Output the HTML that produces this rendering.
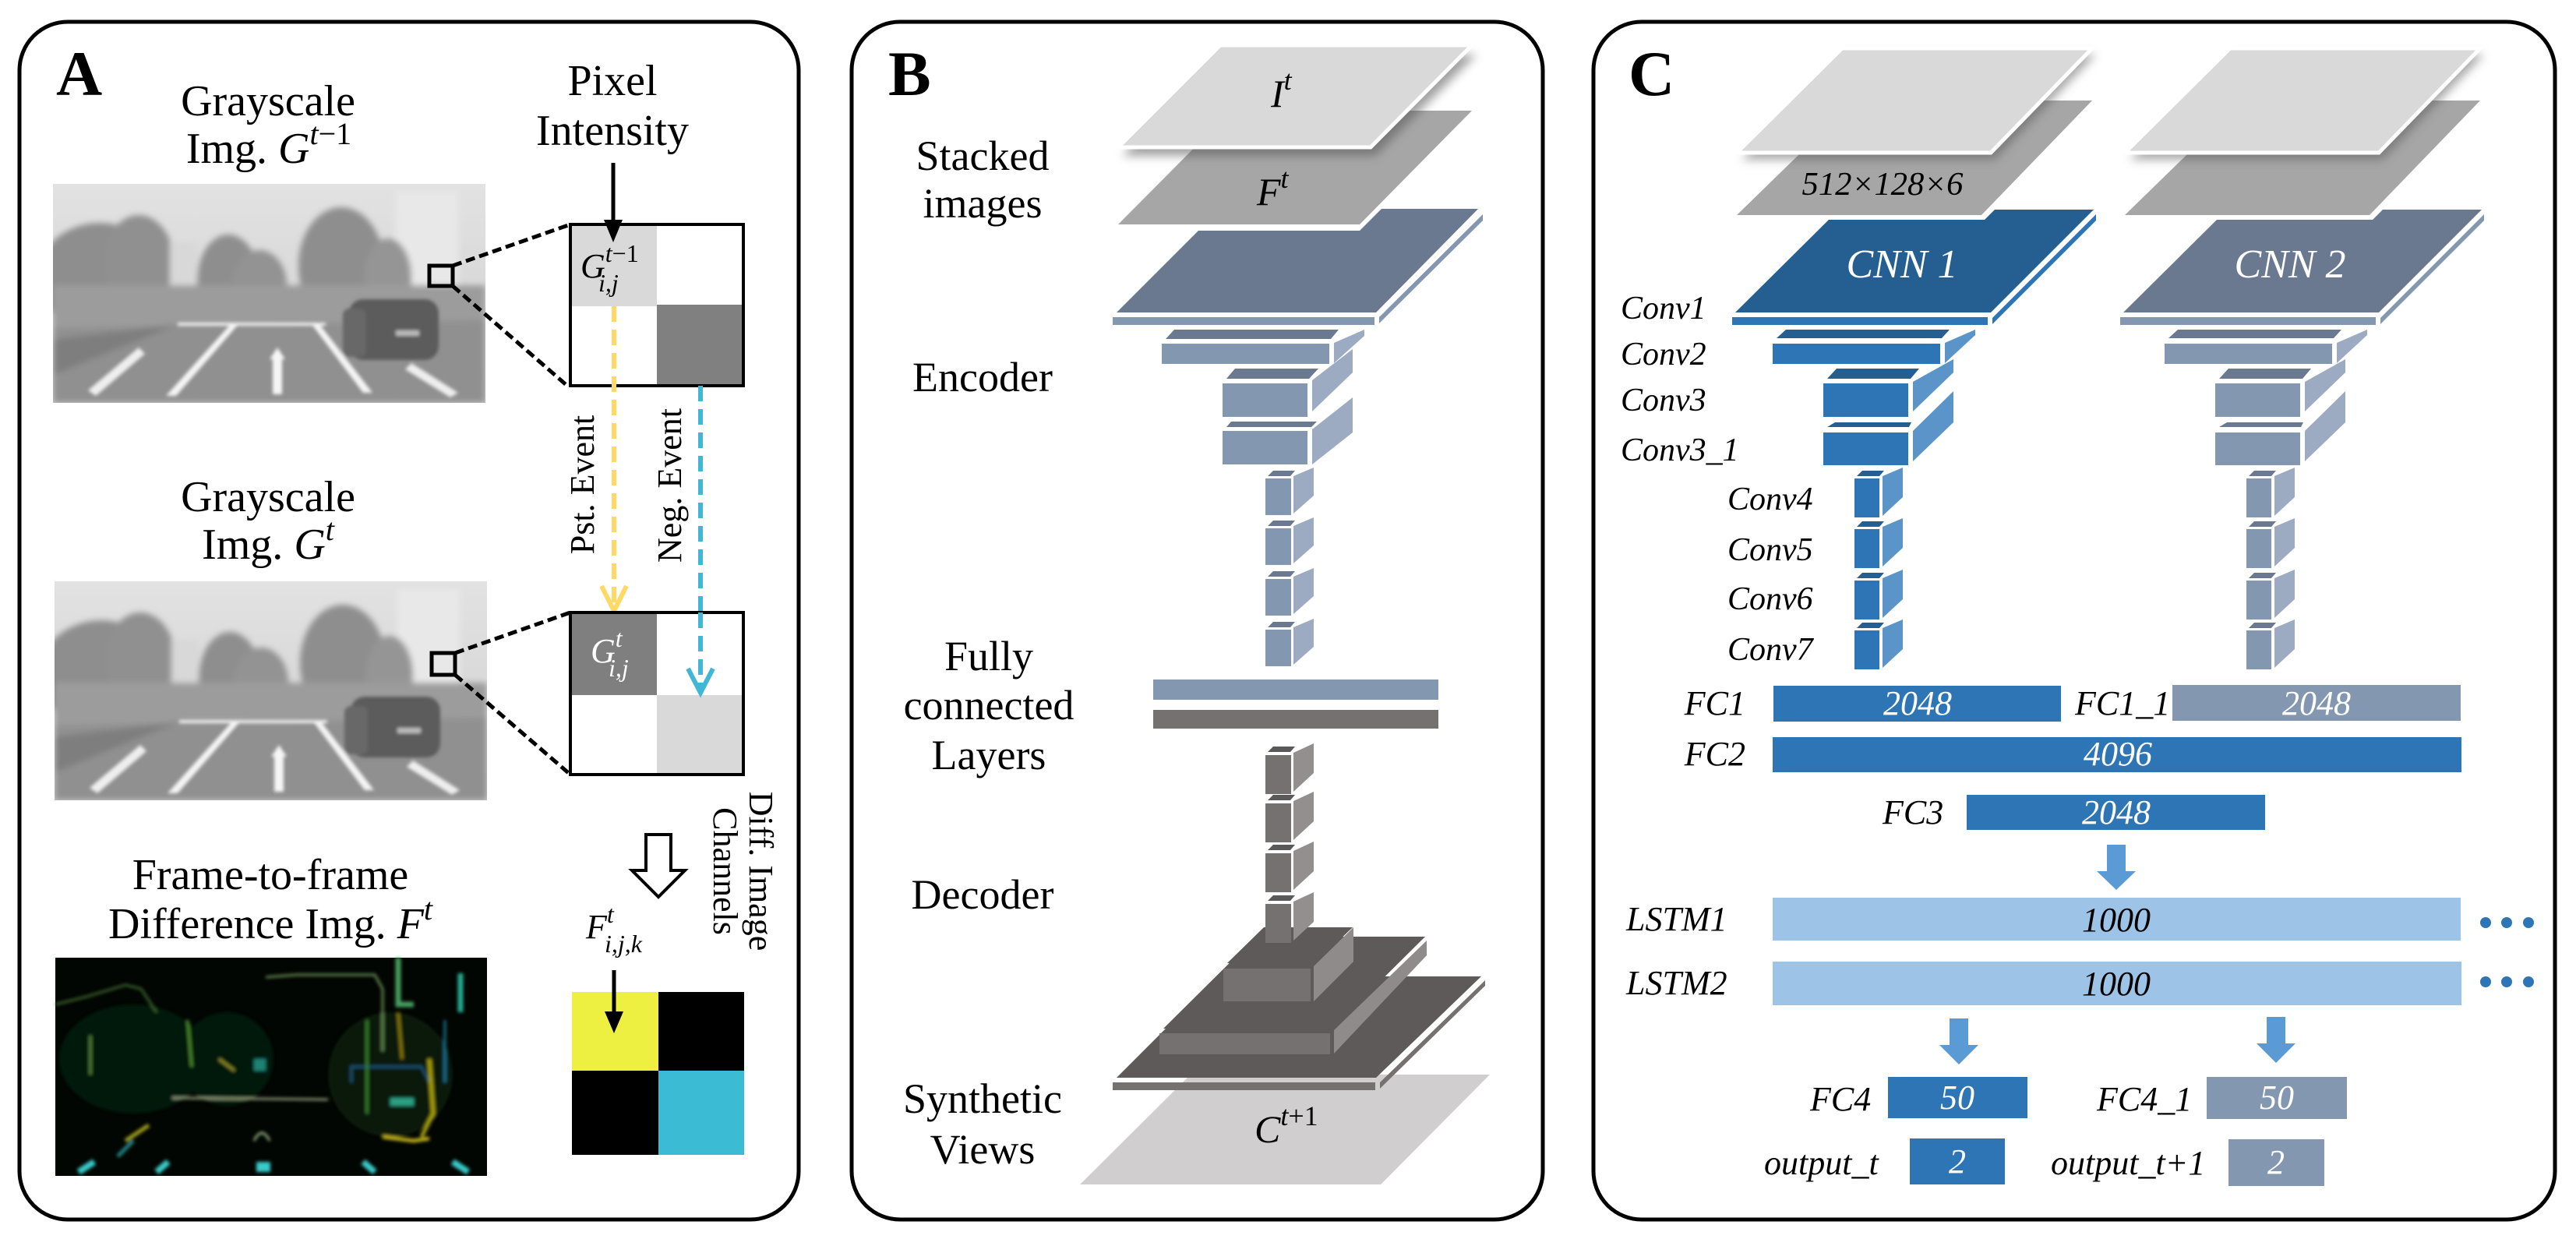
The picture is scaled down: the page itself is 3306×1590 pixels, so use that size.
<!DOCTYPE html>
<html><head><meta charset="utf-8"><style>
html,body{margin:0;padding:0;background:#fff;}
svg{display:block;font-family:"Liberation Serif","Times New Roman","DejaVu Serif","Noto Serif CJK SC",serif;}
svg text{font-family:"Liberation Serif","Times New Roman","DejaVu Serif","Noto Serif CJK SC",serif;}
</style></head><body>
<svg width="3306" height="1590" viewBox="0 0 3306 1590" xmlns="http://www.w3.org/2000/svg">
<defs>
<filter id="bl" x="-10%" y="-10%" width="120%" height="120%"><feGaussianBlur stdDeviation="4"/></filter>
<filter id="bl2" x="-10%" y="-10%" width="120%" height="120%"><feGaussianBlur stdDeviation="2"/></filter>
<filter id="sh" x="-20%" y="-20%" width="140%" height="140%"><feGaussianBlur stdDeviation="6"/></filter>
<linearGradient id="sky" x1="0" y1="0" x2="0" y2="1"><stop offset="0" stop-color="#e2e2e2"/><stop offset="1" stop-color="#cfcfcf"/></linearGradient>
<clipPath id="stclip"><rect width="555" height="281"/></clipPath>
<g id="street" clip-path="url(#stclip)">
<rect x="0" y="0" width="555" height="281" fill="url(#sky)"/>
<g filter="url(#bl)">
<rect x="440" y="10" width="80" height="120" fill="#e8e8e8"/>
<ellipse cx="60" cy="120" rx="80" ry="70" fill="#8e8e8e"/>
<ellipse cx="110" cy="100" rx="45" ry="60" fill="#909090"/>
<ellipse cx="225" cy="125" rx="40" ry="60" fill="#8e8e8e"/>
<ellipse cx="265" cy="130" rx="35" ry="45" fill="#939393"/>
<ellipse cx="370" cy="105" rx="55" ry="75" fill="#8e8e8e"/>
<ellipse cx="430" cy="120" rx="30" ry="50" fill="#959595"/>
<rect x="150" y="75" width="35" height="80" fill="#d8d8d8"/>
<rect x="0" y="130" width="555" height="55" fill="#9c9c9c"/>
<polygon points="0,185 555,175 555,281 0,281" fill="#909090"/>
<polygon points="0,200 160,180 0,245" fill="#7e7e7e"/>
</g>
<g filter="url(#bl2)">
<rect x="160" y="178" width="190" height="4" fill="#eee"/>
<polygon points="228,180 238,180 158,272 145,272" fill="#f4f4f4"/>
<polygon points="332,180 342,180 410,268 398,268" fill="#f4f4f4"/>
<polygon points="278,225 288,210 298,225 294,225 294,270 282,270 282,225" fill="#f6f6f6"/>
<polygon points="45,265 110,210 118,218 55,272" fill="#eee"/>
<polygon points="460,230 520,268 510,274 452,238" fill="#eee"/>
<rect x="380" y="148" width="115" height="78" rx="18" fill="#5c5c5c"/>
<rect x="372" y="160" width="30" height="62" rx="8" fill="#686868"/>
<rect x="440" y="188" width="30" height="7" fill="#bbb"/>
</g>
</g>
</defs>

<rect x="25" y="28" width="1000" height="1537" rx="62" fill="none" stroke="#000" stroke-width="5"/>
<rect x="1093" y="28" width="887" height="1537" rx="62" fill="none" stroke="#000" stroke-width="5"/>
<rect x="2045" y="28" width="1234" height="1537" rx="62" fill="none" stroke="#000" stroke-width="5"/>

<!-- ================= PANEL A ================= -->
<text x="72" y="122" font-size="82" font-weight="bold">A</text>
<text x="344" y="148" font-size="56" text-anchor="middle">Grayscale</text>
<text x="345" y="209" font-size="56" text-anchor="middle">Img. <tspan font-style="italic">G</tspan><tspan font-size="40" dy="-24" font-style="italic">t</tspan><tspan font-size="40">−1</tspan></text>
<text x="786" y="122" font-size="56" text-anchor="middle">Pixel</text>
<text x="786" y="186" font-size="56" text-anchor="middle">Intensity</text>

<use href="#street" x="68" y="236"/>
<rect x="551" y="341" width="30" height="26" fill="none" stroke="#000" stroke-width="5"/>
<line x1="581" y1="341" x2="732" y2="288" stroke="#000" stroke-width="5" stroke-dasharray="12 6"/>
<line x1="581" y1="367" x2="728" y2="495" stroke="#000" stroke-width="5" stroke-dasharray="12 6"/>
<rect x="732" y="288" width="222" height="207" fill="#fff"/>
<rect x="732" y="288" width="111" height="105" fill="#d9d9d9"/>
<rect x="843" y="391" width="111" height="104" fill="#808080"/>
<rect x="732" y="288" width="222" height="207" fill="none" stroke="#000" stroke-width="4"/>
<text x="745" y="356" font-size="44" font-style="italic">G<tspan font-size="32" dy="-20">t</tspan><tspan font-size="32" font-style="normal">−1</tspan><tspan font-size="32" x="768" dy="38">i,j</tspan></text>
<line x1="787" y1="209" x2="787" y2="285" stroke="#000" stroke-width="5"/>
<polygon points="775,282 799,282 787,311" fill="#000"/>

<line x1="788" y1="393" x2="788" y2="780" stroke="#ffd966" stroke-width="6" stroke-dasharray="20 10"/>
<polyline points="772,752 788,784 804,752" fill="none" stroke="#ffd966" stroke-width="6"/>
<line x1="899" y1="495" x2="899" y2="886" stroke="#41b6d6" stroke-width="6" stroke-dasharray="20 10"/>
<text transform="translate(762,622) rotate(-90)" font-size="44" text-anchor="middle">Pst. Event</text>
<text transform="translate(874,623) rotate(-90)" font-size="44" text-anchor="middle">Neg. Event</text>

<text x="344" y="656" font-size="56" text-anchor="middle">Grayscale</text>
<text x="344" y="717" font-size="56" text-anchor="middle">Img. <tspan font-style="italic">G</tspan><tspan font-size="40" dy="-24" font-style="italic">t</tspan></text>

<use href="#street" x="70" y="746"/>
<rect x="554" y="838" width="30" height="28" fill="none" stroke="#000" stroke-width="5"/>
<line x1="584" y1="838" x2="732" y2="786" stroke="#000" stroke-width="5" stroke-dasharray="12 6"/>
<line x1="584" y1="866" x2="732" y2="994" stroke="#000" stroke-width="5" stroke-dasharray="12 6"/>
<rect x="732" y="786" width="222" height="208" fill="#fff"/>
<rect x="732" y="786" width="111" height="106" fill="#7f7f7f"/>
<rect x="843" y="892" width="111" height="102" fill="#d9d9d9"/>
<rect x="732" y="786" width="222" height="208" fill="none" stroke="#000" stroke-width="4"/>
<text x="758" y="850" font-size="44" font-style="italic" fill="#fff">G<tspan font-size="32" dy="-20">t</tspan><tspan font-size="32" x="781" dy="38">i,j</tspan></text>
<line x1="899" y1="786" x2="899" y2="886" stroke="#41b6d6" stroke-width="6" stroke-dasharray="20 10"/>
<polyline points="883,858 899,889 915,858" fill="none" stroke="#41b6d6" stroke-width="6"/>

<text x="347" y="1141" font-size="56" text-anchor="middle">Frame-to-frame</text>
<text x="347" y="1204" font-size="56" text-anchor="middle">Difference Img. <tspan font-style="italic">F</tspan><tspan font-size="40" dy="-24" font-style="italic">t</tspan></text>

<polygon points="829,1071 861,1071 861,1117 879,1117 845,1151 811,1117 829,1117" fill="#fff" stroke="#000" stroke-width="4"/>
<text transform="translate(962,1118) rotate(90)" font-size="44" text-anchor="middle">Diff. Image</text>
<text transform="translate(916,1118) rotate(90)" font-size="44" text-anchor="middle">Channels</text>
<text x="752" y="1204" font-size="44" font-style="italic">F<tspan font-size="32" dy="-20">t</tspan><tspan font-size="32" x="776" dy="38">i,j,k</tspan></text>

<g transform="translate(71,1229)">
<rect width="554" height="280" fill="#020602"/>
<g filter="url(#bl2)" fill="none" stroke-width="3" opacity="0.9">
<ellipse cx="100" cy="130" rx="95" ry="70" fill="#061a0a" stroke="none"/>
<ellipse cx="220" cy="130" rx="60" ry="60" fill="#061a09" stroke="none"/>
<ellipse cx="430" cy="150" rx="80" ry="80" fill="#071a0b" stroke="none"/>
<polyline points="0,60 40,50 90,35 110,40 130,70" stroke="#3f6a30"/>
<polyline points="270,25 310,22 410,22 420,40 420,120" stroke="#6e955a"/>
<polyline points="440,0 440,60 460,60" stroke="#4faf6a" stroke-width="7"/>
<line x1="520" y1="20" x2="520" y2="70" stroke="#2ac0a0" stroke-width="7"/>
<polyline points="150,180 350,182" stroke="#98a880"/>
<line x1="45" y1="100" x2="45" y2="150" stroke="#5a9040"/>
<line x1="170" y1="80" x2="175" y2="140" stroke="#58a038"/>
<line x1="210" y1="130" x2="230" y2="145" stroke="#a0a030"/>
<rect x="255" y="130" width="15" height="15" fill="#209080" stroke="none"/>
<polyline points="380,160 380,140 470,140 480,160" stroke="#1a5a7a"/>
<polyline points="480,130 485,200 470,230" stroke="#b8b010" stroke-width="5"/>
<polyline points="420,230 460,235 480,232" stroke="#d0c020" stroke-width="5"/>
<rect x="430" y="180" width="30" height="10" fill="#30b090" stroke="none"/>
<line x1="400" y1="80" x2="400" y2="200" stroke="#409030"/>
<line x1="440" y1="70" x2="445" y2="130" stroke="#a09010"/>
<line x1="500" y1="80" x2="500" y2="160" stroke="#1a80a0"/>
<polyline points="90,235 120,215" stroke="#b0b020" stroke-width="5"/>
<polyline points="80,255 100,235" stroke="#209090" stroke-width="5"/>
<path d="M255,235 q10,-20 20,0" stroke="#a0c090"/>
<line x1="30" y1="275" x2="50" y2="262" stroke="#40e0e0" stroke-width="8"/>
<line x1="130" y1="275" x2="145" y2="262" stroke="#40e0e0" stroke-width="8"/>
<rect x="258" y="262" width="18" height="13" fill="#40e0e0" stroke="none"/>
<line x1="395" y1="262" x2="410" y2="275" stroke="#40e0e0" stroke-width="8"/>
<line x1="510" y1="262" x2="530" y2="275" stroke="#40e0e0" stroke-width="8"/>
</g>
</g>

<rect x="734" y="1273" width="111" height="101" fill="#eef041"/>
<rect x="845" y="1273" width="110" height="101" fill="#000"/>
<rect x="734" y="1374" width="111" height="108" fill="#000"/>
<rect x="845" y="1374" width="110" height="108" fill="#3bbcd4"/>
<line x1="788" y1="1245" x2="788" y2="1300" stroke="#000" stroke-width="5"/>
<polygon points="776,1298 800,1298 788,1326" fill="#000"/>

<!-- ================= PANEL B ================= -->
<text x="1140" y="122" font-size="82" font-weight="bold">B</text>
<g font-size="54" text-anchor="middle">
<text x="1261" y="218">Stacked</text>
<text x="1261" y="279">images</text>
<text x="1261" y="502">Encoder</text>
<text x="1269" y="860">Fully</text>
<text x="1269" y="923">connected</text>
<text x="1269" y="987">Layers</text>
<text x="1261" y="1166">Decoder</text>
<text x="1261" y="1428">Synthetic</text>
<text x="1261" y="1493">Views</text>
</g>

<polygon points="1433,401 1766,401 1897,268 1773,268 1745,296 1538,296" fill="#6a7990"/>
<rect x="1428" y="407" width="336" height="10" fill="#8497b0"/>
<polygon points="1770,407 1903,275 1903,283 1770,415" fill="#8497b0"/>
<polygon points="1435,288 1745,288 1889,142 1580,142" fill="#a6a6a6"/>
<polygon points="1440,200 1765,200 1895,70 1570,70" fill="#555" opacity="0.55" filter="url(#sh)"/>
<polygon points="1435,189 1759,189 1889,58 1566,58" fill="#d9d9d9" stroke="#fff" stroke-width="5"/>
<text x="1631" y="137" font-size="50" font-style="italic">I<tspan font-size="36" dy="-22">t</tspan></text>
<text x="1613" y="263" font-size="50" font-style="italic">F<tspan font-size="36" dy="-22">t</tspan></text>

<g>
<polygon points="1496,435 1507,423 1718,423 1708,435" fill="#6a7990"/>
<rect x="1491" y="441" width="215" height="26" fill="#8497b0"/>
<polygon points="1712,440 1751,423 1751,431 1712,466" fill="#9dabc2"/>
<polygon points="1574,486 1585,473 1692,473 1680,486" fill="#6a7990"/>
<rect x="1569" y="492" width="109" height="43" fill="#8497b0"/>
<polygon points="1684,488 1736,448 1736,478 1684,528" fill="#9dabc2"/>
<polygon points="1574,548 1580,541 1690,541 1683,548" fill="#6a7990"/>
<rect x="1569" y="553" width="109" height="43" fill="#8497b0"/>
<polygon points="1684,551 1736,510 1736,555 1684,596" fill="#9dabc2"/>
</g>
<g id="cubeB">
<polygon points="1627,611 1634,604 1662,604 1656,611" fill="#6a7990"/>
<rect x="1624" y="614" width="33" height="47" fill="#8497b0"/>
<polygon points="1660,611 1686,600 1686,636 1660,659" fill="#9dabc2"/>
</g>
<use href="#cubeB" y="64"/>
<use href="#cubeB" y="129"/>
<use href="#cubeB" y="194"/>

<rect x="1480" y="872" width="366" height="26" fill="#8497b0"/>
<rect x="1480" y="911" width="366" height="24" fill="#767171"/>

<g id="cubeD">
<polygon points="1627,965 1634,958 1662,958 1656,965" fill="#595959"/>
<rect x="1624" y="969" width="33" height="50" fill="#767171"/>
<polygon points="1660,966 1686,954 1686,992 1660,1016" fill="#938f8e"/>
</g>
<use href="#cubeD" y="62"/>
<use href="#cubeD" y="126"/>

<polygon points="1386,1520 1772,1520 1912,1379 1528,1379" fill="#d0cece"/>
<polygon points="1433,1383 1766,1383 1901,1253 1563,1253" fill="#5e5a59"/>
<rect x="1428" y="1389" width="337" height="10" fill="#767171"/>
<polygon points="1771,1389 1906,1258 1906,1265 1771,1397" fill="#767171"/>
<polygon points="1493,1320 1612,1202 1829,1202 1710,1320" fill="#5e5a59"/>
<rect x="1488" y="1326" width="219" height="27" fill="#767171"/>
<polygon points="1712,1322 1831,1207 1831,1226 1712,1352" fill="#8f8b8a"/>
<polygon points="1575,1236 1622,1190 1736,1190 1688,1236" fill="#5e5a59"/>
<rect x="1570" y="1243" width="112" height="42" fill="#767171"/>
<polygon points="1686,1240 1737,1190 1737,1234 1686,1285" fill="#8f8b8a"/>
<use href="#cubeD" y="191"/>
<text x="1610" y="1466" font-size="50" font-style="italic">C<tspan font-size="36" dy="-22">t</tspan><tspan font-size="36" font-style="normal">+1</tspan></text>

<!-- ================= PANEL C ================= -->
<text x="2090" y="122" font-size="82" font-weight="bold">C</text>

<polygon points="2227,401 2555,401 2687,269 2560,269 2547,282 2347,282" fill="#255e91"/>
<rect x="2223" y="407" width="328" height="10" fill="#2e75b6"/>
<polygon points="2557,408 2690,275 2690,283 2557,416" fill="#2e75b6"/>
<polygon points="2229,276 2543,276 2685,129 2380,129" fill="#a6a6a6"/>
<polygon points="2235,205 2560,205 2690,70 2370,70" fill="#555" opacity="0.5" filter="url(#sh)"/>
<polygon points="2229,196 2555,196 2685,62 2364,62" fill="#d9d9d9" stroke="#fff" stroke-width="5"/>
<text x="2416" y="250" font-size="42" font-style="italic" text-anchor="middle" textLength="207" lengthAdjust="spacingAndGlyphs">512×128×6</text>
<text x="2441" y="356" font-size="52" font-style="italic" fill="#fff" text-anchor="middle">CNN 1</text>

<polygon points="2725,401 3053,401 3185,269 3058,269 3045,282 2845,282" fill="#6a7990"/>
<rect x="2721" y="407" width="328" height="10" fill="#8497b0"/>
<polygon points="3055,408 3188,275 3188,283 3055,416" fill="#8497b0"/>
<polygon points="2727,276 3041,276 3183,129 2878,129" fill="#a6a6a6"/>
<polygon points="2733,205 3058,205 3188,70 2868,70" fill="#555" opacity="0.5" filter="url(#sh)"/>
<polygon points="2727,196 3053,196 3183,62 2862,62" fill="#d9d9d9" stroke="#fff" stroke-width="5"/>
<text x="2939" y="356" font-size="52" font-style="italic" fill="#fff" text-anchor="middle">CNN 2</text>

<g>
<polygon points="2280,434 2292,423 2502,423 2492,434" fill="#255e91"/>
<rect x="2275" y="441" width="215" height="26" fill="#2e75b6"/>
<polygon points="2496,440 2535,423 2535,430 2496,466" fill="#5b94c9"/>
<polygon points="2345,486 2357,473 2463,473 2452,486" fill="#255e91"/>
<rect x="2340" y="492" width="109" height="43" fill="#2e75b6"/>
<polygon points="2455,490 2507,461 2507,478 2455,528" fill="#5b94c9"/>
<polygon points="2345,548 2355,542 2453,542 2450,548" fill="#255e91"/>
<rect x="2340" y="555" width="109" height="42" fill="#2e75b6"/>
<polygon points="2455,553 2507,502 2507,542 2455,592" fill="#5b94c9"/>
</g>
<g id="cubeC">
<polygon points="2383,611 2390,604 2418,604 2412,611" fill="#255e91"/>
<rect x="2380" y="614" width="32" height="50" fill="#2e75b6"/>
<polygon points="2416,611 2442,600 2442,638 2416,662" fill="#5b94c9"/>
</g>
<use href="#cubeC" y="65"/>
<use href="#cubeC" y="131"/>
<use href="#cubeC" y="195"/>

<g transform="translate(503,0)">
<polygon points="2280,434 2292,423 2502,423 2492,434" fill="#6a7990"/>
<rect x="2275" y="441" width="215" height="26" fill="#8497b0"/>
<polygon points="2496,440 2535,423 2535,430 2496,466" fill="#9dabc2"/>
<polygon points="2345,486 2357,473 2463,473 2452,486" fill="#6a7990"/>
<rect x="2340" y="492" width="109" height="43" fill="#8497b0"/>
<polygon points="2455,490 2507,461 2507,478 2455,528" fill="#9dabc2"/>
<polygon points="2345,548 2355,542 2453,542 2450,548" fill="#6a7990"/>
<rect x="2340" y="555" width="109" height="42" fill="#8497b0"/>
<polygon points="2455,553 2507,502 2507,542 2455,592" fill="#9dabc2"/>
<g id="cubeC2">
<polygon points="2383,611 2390,604 2418,604 2412,611" fill="#6a7990"/>
<rect x="2380" y="614" width="32" height="50" fill="#8497b0"/>
<polygon points="2416,611 2442,600 2442,638 2416,662" fill="#9dabc2"/>
</g>
<use href="#cubeC2" y="65"/>
<use href="#cubeC2" y="131"/>
<use href="#cubeC2" y="195"/>
</g>

<g font-size="42" font-style="italic">
<text x="2080" y="409">Conv1</text>
<text x="2080" y="468">Conv2</text>
<text x="2080" y="527">Conv3</text>
<text x="2080" y="591">Conv3_1</text>
<text x="2217" y="654">Conv4</text>
<text x="2217" y="719">Conv5</text>
<text x="2217" y="782">Conv6</text>
<text x="2217" y="847">Conv7</text>
</g>

<rect x="2276" y="880" width="369" height="46" fill="#2e75b6"/>
<rect x="2788" y="879" width="370" height="46" fill="#8497b0"/>
<rect x="2275" y="946" width="884" height="45" fill="#2e75b6"/>
<rect x="2524" y="1020" width="383" height="45" fill="#2e75b6"/>
<rect x="2704" y="1084" width="24" height="38" fill="#5b9bd5"/>
<polygon points="2691,1118 2741,1118 2716,1142" fill="#5b9bd5"/>
<rect x="2275" y="1152" width="883" height="55" fill="#9dc3e6"/>
<rect x="2275" y="1234" width="884" height="56" fill="#9dc3e6"/>
<g fill="#2e75b6">
<circle cx="3190" cy="1184" r="7"/><circle cx="3217" cy="1184" r="7"/><circle cx="3245" cy="1184" r="7"/>
<circle cx="3190" cy="1260" r="7"/><circle cx="3217" cy="1260" r="7"/><circle cx="3245" cy="1260" r="7"/>
</g>
<rect x="2502" y="1307" width="24" height="38" fill="#5b9bd5"/>
<polygon points="2489,1341 2539,1341 2514,1366" fill="#5b9bd5"/>
<rect x="2909" y="1305" width="24" height="38" fill="#5b9bd5"/>
<polygon points="2896,1339 2946,1339 2921,1364" fill="#5b9bd5"/>
<rect x="2423" y="1382" width="179" height="53" fill="#2e75b6"/>
<rect x="2832" y="1382" width="180" height="54" fill="#8497b0"/>
<rect x="2451" y="1461" width="122" height="59" fill="#2e75b6"/>
<rect x="2860" y="1462" width="123" height="60" fill="#8497b0"/>

<g font-size="44" font-style="italic">
<text x="2240" y="917" text-anchor="end">FC1</text>
<text x="2663" y="917">FC1_1</text>
<text x="2240" y="982" text-anchor="end">FC2</text>
<text x="2416" y="1057">FC3</text>
<text x="2087" y="1194">LSTM1</text>
<text x="2087" y="1276">LSTM2</text>
<text x="2323" y="1425">FC4</text>
<text x="2691" y="1425">FC4_1</text>
<text x="2264" y="1507">output_t</text>
<text x="2632" y="1507">output_t+1</text>
</g>
<g font-size="44" font-style="italic" text-anchor="middle" fill="#fff">
<text x="2461" y="917">2048</text>
<text x="2973" y="917">2048</text>
<text x="2718" y="982">4096</text>
<text x="2716" y="1057">2048</text>
<text x="2512" y="1423">50</text>
<text x="2922" y="1423">50</text>
<text x="2512" y="1505">2</text>
<text x="2921" y="1506">2</text>
</g>
<g font-size="44" font-style="italic" text-anchor="middle">
<text x="2716" y="1195">1000</text>
<text x="2716" y="1277">1000</text>
</g>
</svg>
</body></html>
